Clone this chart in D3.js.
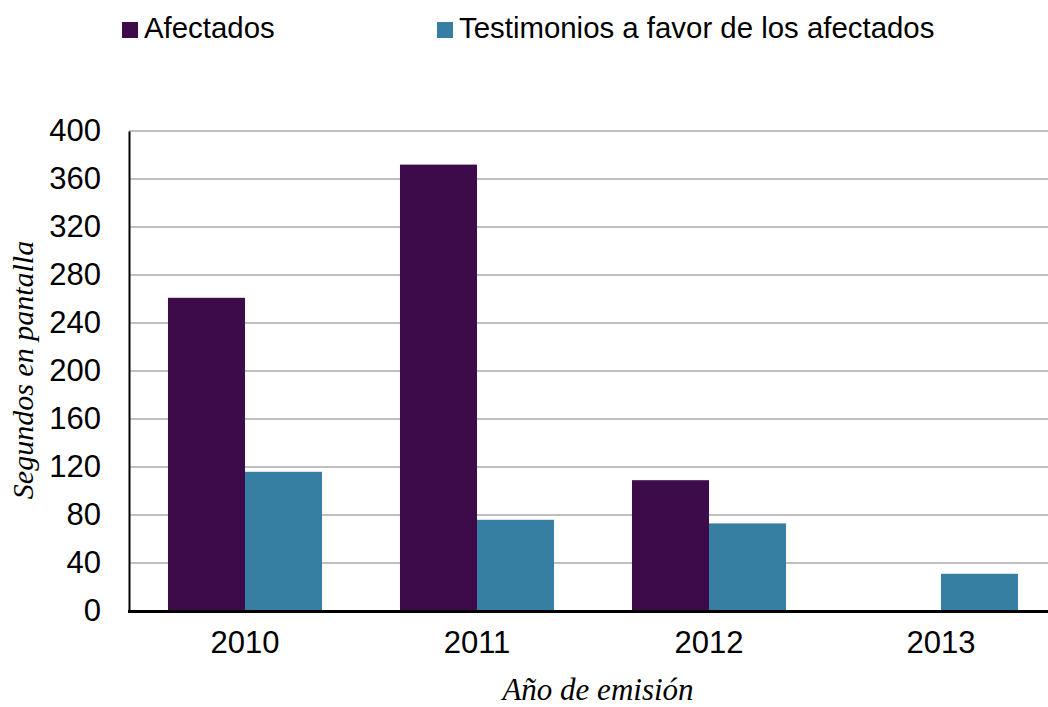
<!DOCTYPE html>
<html><head><meta charset="utf-8">
<script src="https://cdn.jsdelivr.net/npm/d3@7/dist/d3.min.js"></script>
<style>body{margin:0;background:#fff}svg{display:block}</style>
</head><body><svg id="c" width="1048" height="707"></svg>
<script>
const years = ["2010","2011","2012","2013"];
const seriesNames = ["Afectados","Testimonios a favor de los afectados"];
const afectados = [261, 372, 109, 0];
const testimonios = [116, 76, 73, 31];
const yTicks = [0,40,80,120,160,200,240,280,320,360,400];
const colors = ["#3d0b4a","#367ea2"];

(function(){
const svg = d3.select("#c");
const pl = 129, pr = 1057, pt = 131, pb = 611;
const x0 = d3.scaleBand().domain(years).range([pl, pr]).paddingInner(0.336).paddingOuter(0.168);
const x1 = d3.scaleBand().domain(seriesNames).range([0, x0.bandwidth()]);
const y = d3.scaleLinear().domain([0,400]).range([pb, pt]);

// grid
svg.append("g").selectAll("line").data(yTicks.filter(d=>d>0)).join("line")
  .attr("x1", pl).attr("x2", 1048).attr("y1", d=>y(d)).attr("y2", d=>y(d))
  .attr("stroke", "#bfbfbf").attr("stroke-width", 2);

const data = years.map((yr,i)=>({yr, vals:[afectados[i], testimonios[i]]}));
const g = svg.append("g").selectAll("g").data(data).join("g")
  .attr("transform", d=>`translate(${x0(d.yr)},0)`);
g.selectAll("rect").data(d=>d.vals.map((v,j)=>({v, s:seriesNames[j], j}))).join("rect")
  .attr("x", d=>x1(d.s)).attr("width", x1.bandwidth())
  .attr("y", d=>y(d.v)).attr("height", d=>pb - y(d.v))
  .attr("fill", d=>colors[d.j]);

// axes
const yAxis = d3.axisLeft(y).tickValues(yTicks).tickSize(0).tickPadding(28);
const ya = svg.append("g").attr("transform", `translate(${pl},0)`).call(yAxis);
ya.select(".domain").attr("stroke", "#000").attr("stroke-width", 2);
ya.selectAll("text").attr("font-family", "Liberation Sans, Arial, sans-serif").attr("font-size", 31).attr("fill", "#000");

const xAxis = d3.axisBottom(x0).tickSize(0).tickPadding(20);
const xa = svg.append("g").attr("transform", `translate(0,${pb})`).call(xAxis);
xa.select(".domain").remove();
xa.selectAll("text").attr("font-family", "Liberation Sans, Arial, sans-serif").attr("font-size", 31).attr("fill", "#000");
svg.append("line").attr("x1", pl-1).attr("x2", 1048).attr("y1", pb+0.5).attr("y2", pb+0.5)
  .attr("stroke", "#000").attr("stroke-width", 3);

// titles
svg.append("text").attr("transform", "translate(33,370) rotate(-90)").attr("text-anchor", "middle")
  .attr("font-family", "Liberation Serif, Times New Roman, serif").attr("font-style", "italic")
  .attr("font-size", 30).text("Segundos en pantalla");
svg.append("text").attr("x", 598).attr("y", 700).attr("text-anchor", "middle")
  .attr("font-family", "Liberation Serif, Times New Roman, serif").attr("font-style", "italic")
  .attr("font-size", 31).text("Año de emisión");

// legend
const legX = [122, 437];
const leg = svg.append("g").selectAll("g").data(seriesNames).join("g")
  .attr("transform", (d,i)=>`translate(${legX[i]},22)`);
leg.append("rect").attr("width", 16).attr("height", 16).attr("fill", (d,i)=>colors[i]);
leg.append("text").attr("x", 22).attr("y", 16).attr("font-family", "Liberation Sans, Arial, sans-serif")
  .attr("font-size", 29.4).attr("fill", "#000").text(d=>d);
})();
</script></body></html>
